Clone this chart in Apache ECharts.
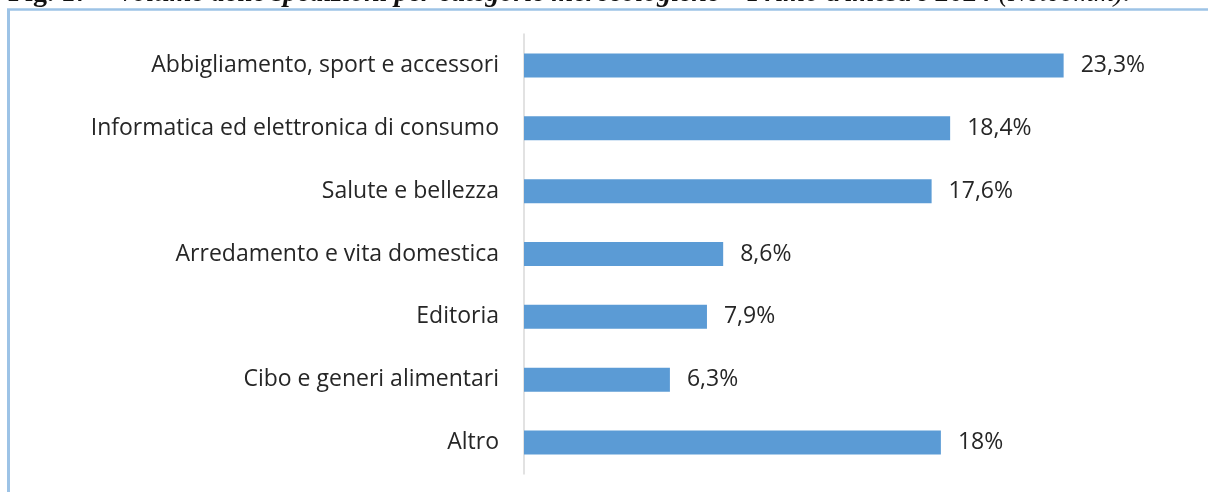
<!DOCTYPE html>
<html>
<head>
<meta charset="utf-8">
<script src="https://cdn.jsdelivr.net/npm/echarts@6/dist/echarts.min.js"></script>
<style>
html,body{margin:0;padding:0;background:#fff;}
#chart{width:1208px;height:492px;}
</style>
</head>
<body>
<div id="chart"></div>
<script>
const categories = [
  'Abbigliamento, sport e accessori',
  'Informatica ed elettronica di consumo',
  'Salute e bellezza',
  'Arredamento e vita domestica',
  'Editoria',
  'Cibo e generi alimentari',
  'Altro'
];
const values = [23.3, 18.4, 17.6, 8.6, 7.9, 6.3, 18];
const titleParts = ['Fig. 17 – ', 'Volume delle spedizioni per categorie merceologiche – Primo trimestre 2024 ', '(Netcomm).'];

const chart = echarts.init(document.getElementById('chart'));
const labelFont = '"Open Sans", sans-serif';
chart.setOption({
  animation: false,
  backgroundColor: '#ffffff',
  grid: { left: 524, right: 105, top: 34, bottom: 18, containLabel: false },
  xAxis: { type: 'value', min: 0, max: 25, show: false },
  yAxis: {
    type: 'category',
    data: categories,
    inverse: true,
    axisLine: { show: true, lineStyle: { color: '#d9d9d9', width: 1.5 } },
    axisTick: { show: false },
    axisLabel: { color: '#262626', fontSize: 23, fontFamily: labelFont, margin: 25 }
  },
  series: [{
    type: 'bar',
    data: values,
    barWidth: 24,
    itemStyle: { color: '#5B9BD5' },
    label: {
      show: true,
      position: 'right',
      distance: 17,
      color: '#262626',
      fontSize: 23,
      fontFamily: labelFont,
      formatter: p => String(p.value).replace('.', ',') + '%'
    }
  }],
  graphic: [
    { type: 'line', shape: { x1: 7, y1: 9.5, x2: 1208, y2: 9.5 }, style: { stroke: '#9DC3E6', lineWidth: 2.5 } },
    { type: 'line', shape: { x1: 8.5, y1: 9, x2: 8.5, y2: 492 }, style: { stroke: '#9DC3E6', lineWidth: 3 } },
    {
      type: 'text', x: 8, y: 8, z: 10,
      style: {
        text: '{a|' + titleParts[0] + '}{b|' + titleParts[1] + '}{c|' + titleParts[2] + '}',
        verticalAlign: 'bottom',
        rich: {
          a: { fontFamily: '"Liberation Serif", serif', fontWeight: 'bold', fontSize: 28, fill: '#111', lineHeight: 28 },
          b: { fontFamily: '"Liberation Serif", serif', fontWeight: 'bold', fontStyle: 'italic', fontSize: 28, fill: '#111', lineHeight: 28 },
          c: { fontFamily: '"Liberation Serif", serif', fontStyle: 'italic', fontSize: 28, fill: '#111', lineHeight: 28 }
        }
      }
    }
  ]
});
</script>
</body>
</html>
